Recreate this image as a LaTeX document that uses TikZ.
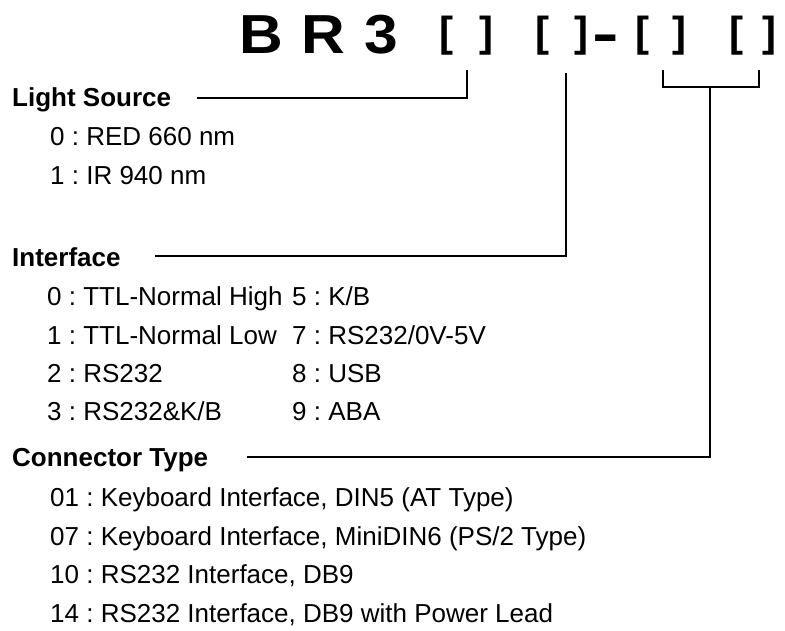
\documentclass[tikz,border=0pt]{standalone}
\usepackage{fontspec}
\usepackage{graphicx}
\setmainfont{Liberation Sans}
\begin{document}
\frenchspacing
\begin{tikzpicture}[x=1pt,y=-1pt,
  lbl/.style={anchor=base west,inner sep=0pt,font=\fontsize{26}{30}\selectfont},
  head/.style={anchor=base west,inner sep=0pt,font=\fontsize{26}{30}\selectfont\bfseries},
  ttl/.style={anchor=base west,inner sep=0pt,font=\fontsize{55}{60}\selectfont\bfseries},
  brk/.style={anchor=base west,inner sep=0pt,font=\fontsize{42}{50}\selectfont\bfseries},
  wire/.style={line width=1.8pt}]
\useasboundingbox (0,0) rectangle (785,630);
% title
\node[ttl] (tB) at (239,53) {\scalebox{1.1}[1]{B}};
\node[ttl] (tR) at (301,53) {\scalebox{1.1}[1]{R}};
\node[ttl] (t3) at (364,53) {\scalebox{1.1}[1]{3}};
\node[brk] (b1l) at (439,46) {[};
\node[brk] (b1r) at (479,46) {]};
\node[brk] (b2l) at (535,46) {[};
\node[brk] (b2r) at (574,46) {]};
\node[anchor=base west,inner sep=0pt,font=\fontsize{55}{60}\selectfont\bfseries] (dash) at (592,52) {\scalebox{1.45}[1]{-}};
\node[brk] (b3l) at (635,46) {[};
\node[brk] (b3r) at (672,46) {]};
\node[brk] (b4l) at (729,46) {[};
\node[brk] (b4r) at (762,46) {]};
% anchor points of connectors
\coordinate (p1) at (467,70);
\coordinate (p2) at (566,73);
\coordinate (p3l) at (663,70);
\coordinate (p3r) at (759,70);
\coordinate (p3m) at (710,87);
\coordinate (s1) at (197,98);
\coordinate (s2) at (155,256);
\coordinate (s3) at (247,457);
% Light source
\node[head] (ls) at (12,106) {Light Source};
\node[lbl] (ls0) at (50,145) {0 : RED 660 nm};
\node[lbl] (ls1) at (50,184) {1 : IR 940 nm};
% Interface
\node[head] (if) at (12,266) {Interface};
\node[lbl] (if0) at (47,305) {0 : TTL-Normal High};
\node[lbl] (if1) at (47,344) {1 : TTL-Normal Low};
\node[lbl] (if2) at (47,382) {2 : RS232};
\node[lbl] (if3) at (47,420) {3 : RS232\&K/B};
\node[lbl] (if5) at (292,305) {5 : K/B};
\node[lbl] (if7) at (292,344) {7 : RS232/0V-5V};
\node[lbl] (if8) at (292,382) {8 : USB};
\node[lbl] (if9) at (292,420) {9 : ABA};
% Connector type
\node[head] (ct) at (12,466) {Connector Type};
\node[lbl] (ct1) at (50,506) {01 : Keyboard Interface, DIN5 (AT Type)};
\node[lbl] (ct7) at (50,545) {07 : Keyboard Interface, MiniDIN6 (PS/2 Type)};
\node[lbl] (ct10) at (50,583) {10 : RS232 Interface, DB9};
\node[lbl] (ct14) at (50,622) {14 : RS232 Interface, DB9 with Power Lead};
% connectors
\draw[wire] (s1) -| (p1);
\draw[wire] (s2) -| (p2);
\draw[wire] (s3) -| (p3m);
\draw[wire] (p3l) |- (p3m) -| (p3r);
\end{tikzpicture}
\end{document}
